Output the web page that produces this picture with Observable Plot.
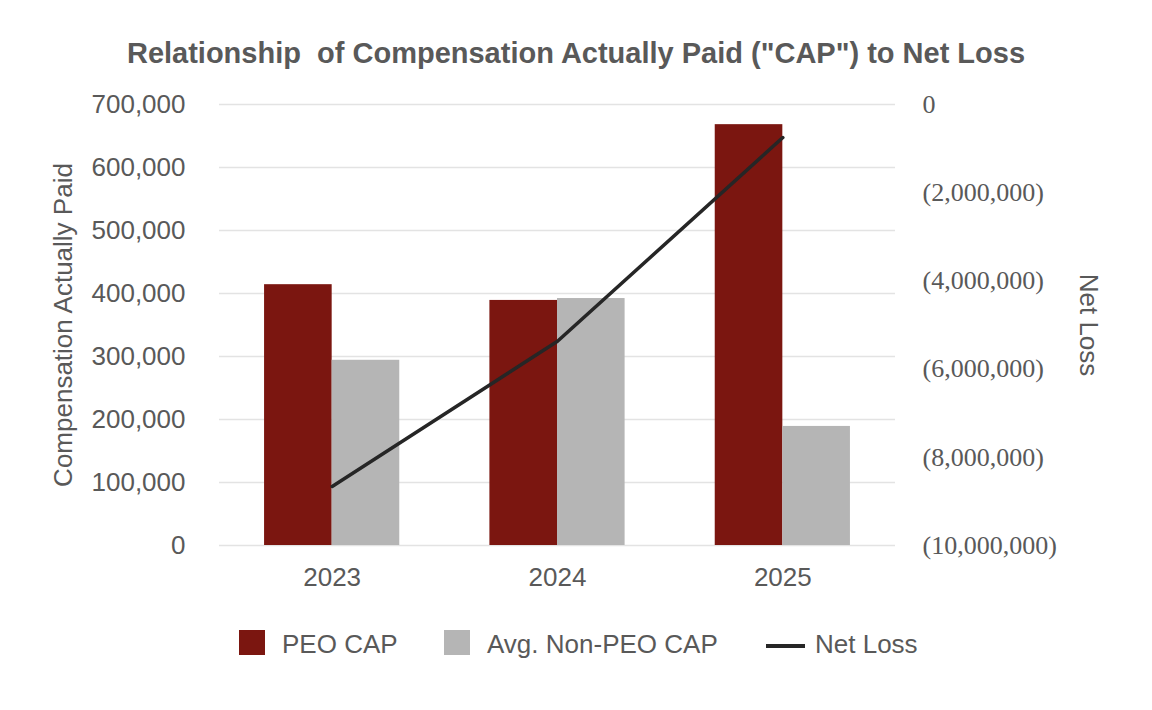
<!DOCTYPE html>
<html>
<head>
<meta charset="utf-8">
<script src="https://cdn.jsdelivr.net/npm/d3@7"></script>
<script src="https://cdn.jsdelivr.net/npm/@observablehq/plot@0.6"></script>
<style>
  html, body { margin: 0; padding: 0; background: #fff; }
  body { width: 1152px; height: 710px; position: relative; overflow: hidden; font-family: "Liberation Sans", Arial, sans-serif; color: #595959; }
  #title { position: absolute; left: 0; top: 0; width: 1152px; height: 106px; line-height: 106px; text-align: center; font-weight: bold; font-size: 29px; color: #595959; white-space: pre; }
  #chart { position: absolute; left: 0; top: 88px; }
  .leg { position: absolute; top: 630px; height: 26px; line-height: 28px; font-size: 26px; color: #595959; white-space: nowrap; }
  .sw { position: absolute; top: 0; width: 26px; height: 25px; }
  .ln { position: absolute; top: 14px; width: 39px; height: 4px; background: #262626; }
</style>
</head>
<body>
<div id="title"></div>
<div id="chart"></div>
<div id="legend"></div>
<script>
// ---- data ----
const years = [2023, 2024, 2025];
const peoCap = [414000, 389000, 668000];
const nonPeoCap = [294000, 392000, 189000];
const netLoss = [-8660000, -5370000, -750000];
const leftTicks = [0, 100000, 200000, 300000, 400000, 500000, 600000, 700000];
const rightTicks = [0, -2000000, -4000000, -6000000, -8000000, -10000000];
const titleText = 'Relationship  of Compensation Actually Paid ("CAP") to Net Loss';
const leftLabel = "Compensation Actually Paid";
const rightLabel = "Net Loss";
const seriesNames = ["PEO CAP", "Avg. Non-PEO CAP", "Net Loss"];
const colors = ["#7B1610", "#B5B5B5", "#262626"];

// secondary axis mapping: right [-10M, 0] onto left [0, 700k]
const rightMin = -10000000, rightMax = 0, leftMax = 700000;
const toLeft = v => (v - rightMin) / (rightMax - rightMin) * leftMax;
const fromLeft = v => v / leftMax * (rightMax - rightMin) + rightMin;

const peoRows = years.map((y, i) => ({year: y, value: peoCap[i]}));
const nonRows = years.map((y, i) => ({year: y, value: nonPeoCap[i]}));
const lossRows = years.map((y, i) => ({year: y, value: netLoss[i]}));

const fmt = d3.format(",");
const fmtRight = v => { const r = Math.round(fromLeft(v)); return r < 0 ? "(" + fmt(-r) + ")" : fmt(r); };

document.getElementById("title").textContent = titleText;

const half = 0.3;
const chart = Plot.plot({
  width: 1152,
  height: 507,
  marginTop: 16,
  marginBottom: 50,
  marginLeft: 219,
  marginRight: 257,
  style: {fontFamily: "Liberation Sans, Arial, sans-serif", color: "#595959", background: "transparent"},
  x: {type: "linear", domain: [years[0] - 0.5, years[years.length - 1] + 0.5]},
  y: {domain: [0, leftMax]},
  marks: [
    Plot.gridY(leftTicks, {stroke: "#E3E3E3", strokeOpacity: 1, strokeWidth: 1.5}),
    Plot.rectY(peoRows, {x1: d => d.year - half, x2: d => d.year, y: "value", fill: colors[0]}),
    Plot.rectY(nonRows, {x1: d => d.year, x2: d => d.year + half, y: "value", fill: colors[1]}),
    Plot.lineY(lossRows, {x: "year", y: d => toLeft(d.value), stroke: colors[2], strokeWidth: 3.5}),
    Plot.axisY({anchor: "left", ticks: leftTicks, tickFormat: fmt, tickSize: 0, tickPadding: 34, fontSize: 26, label: null, color: "#595959"}),
    Plot.axisY({anchor: "right", ticks: rightTicks.map(toLeft), tickFormat: fmtRight, tickSize: 0, tickPadding: 27, fontSize: 26, fontFamily: "Liberation Serif, Times New Roman, serif", label: null, color: "#595959"}),
    Plot.axisX({ticks: years, tickFormat: d => String(d), tickSize: 0, tickPadding: 22, fontSize: 26, label: null, color: "#595959"}),
    Plot.text([leftLabel], {frameAnchor: "left", textAnchor: "middle", dx: -156, rotate: -90, text: d => d, fontSize: 26, fill: "#595959"}),
    Plot.text([rightLabel], {frameAnchor: "right", textAnchor: "middle", dx: 193, rotate: 90, text: d => d, fontSize: 26, fill: "#595959"})
  ]
});
document.getElementById("chart").appendChild(chart);

// legend
const legend = document.getElementById("legend");
const legItems = [
  {name: seriesNames[0], kind: "sw", color: colors[0], left: 239, textLeft: 282},
  {name: seriesNames[1], kind: "sw", color: colors[1], left: 444, textLeft: 487},
  {name: seriesNames[2], kind: "ln", color: colors[2], left: 766, textLeft: 815}
];
legItems.forEach(it => {
  const m = document.createElement("div");
  m.className = it.kind;
  m.style.left = it.left + "px";
  m.style.top = "630px";
  m.style.background = it.color;
  if (it.kind === "ln") m.style.top = "644px";
  legend.appendChild(m);
  const t = document.createElement("div");
  t.className = "leg";
  t.style.left = it.textLeft + "px";
  t.textContent = it.name;
  legend.appendChild(t);
});
</script>
</body>
</html>
